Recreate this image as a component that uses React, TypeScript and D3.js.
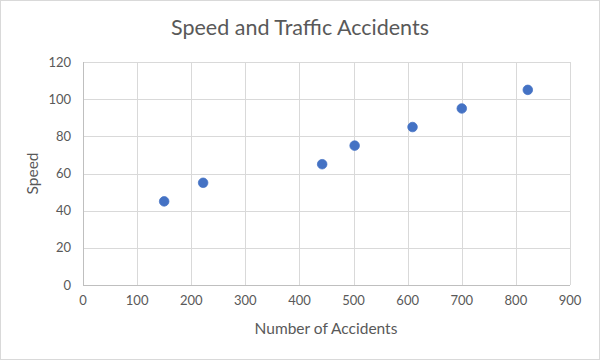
import React from "react";
import * as d3 from "d3";

const accidents = [150, 222, 442, 502, 609, 700, 822];
const speeds = [45, 55, 65, 75, 85, 95, 105];
const xTicks = [0, 100, 200, 300, 400, 500, 600, 700, 800, 900];
const yTicks = [0, 20, 40, 60, 80, 100, 120];
const title = "Speed and Traffic Accidents";
const xTitle = "Number of Accidents";
const yTitle = "Speed";

const W = 600;
const H = 360;
const FONT = "Lato, 'Open Sans', 'Liberation Sans', sans-serif";
const TXT = "#595959";

export default function App() {
  const x = d3.scaleLinear().domain([0, 900]).range([83, 570]);
  const y = d3.scaleLinear().domain([0, 120]).range([285, 62]);
  const pts = d3.zip(accidents, speeds);
  return (
    <svg
      width={W}
      height={H}
      style={{ position: "absolute", left: 0, top: 0, background: "#fff" }}
      fontFamily={FONT}
    >
      <rect x={0.5} y={0.5} width={W - 1} height={H - 1} fill="#fff" stroke="#D9D9D9" />
      <text x={300} y={35} textAnchor="middle" fontSize={21.5} fill={TXT}>
        {title}
      </text>
      {yTicks.map((t) => (
        <g key={"y" + t}>
          <line x1={x(0)} x2={x(900)} y1={Math.round(y(t)) + 0.5} y2={Math.round(y(t)) + 0.5} stroke="#D9D9D9" />
          <text x={71} y={y(t) + 4.5} textAnchor="end" fontSize={13} fill={TXT}>
            {t}
          </text>
        </g>
      ))}
      {xTicks.map((t) => (
        <g key={"x" + t}>
          <line x1={Math.round(x(t)) + 0.5} x2={Math.round(x(t)) + 0.5} y1={y(120)} y2={y(0)} stroke="#D9D9D9" />
          <text x={x(t)} y={305} textAnchor="middle" fontSize={13} fill={TXT}>
            {t}
          </text>
        </g>
      ))}
      <line x1={x(0)} x2={x(900)} y1={Math.round(y(0)) + 0.5} y2={Math.round(y(0)) + 0.5} stroke="#BFBFBF" />
      <line x1={Math.round(x(0)) + 0.5} x2={Math.round(x(0)) + 0.5} y1={y(120)} y2={y(0)} stroke="#BFBFBF" />
      {pts.map(([a, s], i) => (
        <circle key={i} cx={x(a)} cy={y(s)} r={4.8} fill="#4472C4" stroke="#4472C4" strokeWidth={0.75} />
      ))}
      <text x={326} y={334} textAnchor="middle" fontSize={15.5} fill={TXT}>
        {xTitle}
      </text>
      <text
        transform={`translate(38,${y(60)}) rotate(-90)`}
        textAnchor="middle"
        fontSize={15.5}
        fill={TXT}
      >
        {yTitle}
      </text>
    </svg>
  );
}
